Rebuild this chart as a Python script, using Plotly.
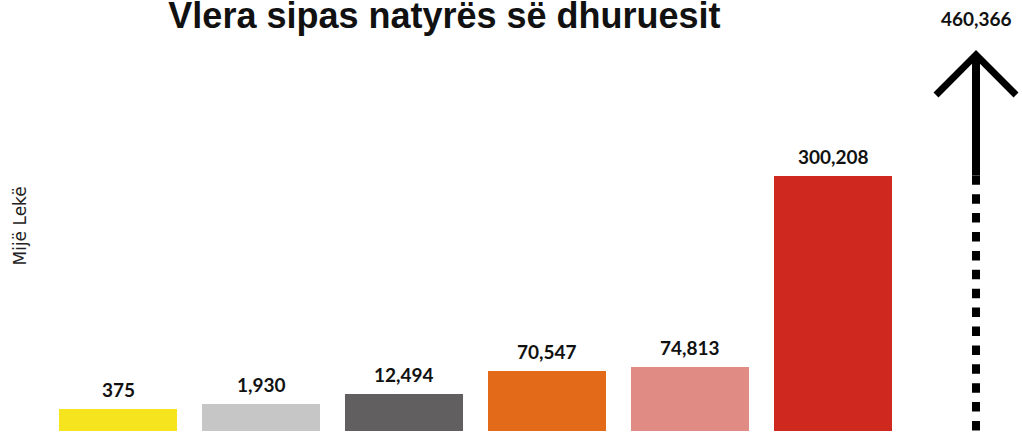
import plotly.graph_objects as go

# ---------------- data ----------------
bar_values = [375, 1930, 12494, 70547, 74813, 300208]          # value labels (Mijë Lekë)
bar_heights = [24900, 31800, 43300, 70547, 74813, 300208]      # bar heights as drawn in the source
bar_colors = ["#F6E41E", "#C6C6C6", "#615F5F", "#E36A18", "#E18B85", "#CF291F"]
total_value = 460366                                            # off-scale total shown by the arrow
title_text = "Vlera sipas natyrës së dhuruesit"
y_title = "Mijë Lekë"

# ---------------- layout geometry ----------------
W, H = 1022, 435
X_PX = 143.0                      # pixels per category
X0_PX = 118.0                     # pixel centre of first bar
Y_PX = 260.26 / 300208            # pixels per unit
BASE_PX = 439.6                   # baseline pixel (just below bottom edge)

x_range = [-X0_PX / X_PX, (W - X0_PX) / X_PX]
y_range = [-(BASE_PX - H) / Y_PX, BASE_PX / Y_PX]

xs = list(range(len(bar_values)))
arrow_x = len(bar_values)
arrow_tip = (BASE_PX - 56) / Y_PX
arm_dx = 40 / X_PX
arm_dy = 41 / Y_PX
top_bar = max(bar_heights)

fig = go.Figure()
fig.add_trace(go.Bar(
    x=xs, y=bar_heights, width=0.82,
    marker=dict(color=bar_colors, line=dict(width=0)),
    hoverinfo="skip", showlegend=False,
))
# dashed part of arrow
fig.add_trace(go.Scatter(
    x=[arrow_x, arrow_x], y=[0, top_bar], mode="lines",
    line=dict(color="black", width=8, dash="9.5px,9.4px"),
    hoverinfo="skip", showlegend=False,
))
# solid stem
fig.add_trace(go.Scatter(
    x=[arrow_x, arrow_x], y=[top_bar, arrow_tip], mode="lines",
    line=dict(color="black", width=8),
    hoverinfo="skip", showlegend=False,
))
# chevron head
fig.add_trace(go.Scatter(
    x=[arrow_x - arm_dx, arrow_x, arrow_x + arm_dx],
    y=[arrow_tip - arm_dy, arrow_tip, arrow_tip - arm_dy],
    mode="lines", line=dict(color="black", width=7),
    hoverinfo="skip", showlegend=False,
))

label_font = dict(family="Lato", size=19, color="#111111", weight="bold")
for x, h, v in zip(xs, bar_heights, bar_values):
    fig.add_annotation(x=x, y=h, xref="x", yref="y", text=f"{v:,}",
                       showarrow=False, yanchor="bottom", yshift=6, font=label_font)

fig.add_annotation(x=arrow_x, y=1 - 18.3 / H, xref="x", yref="paper",
                   text=f"{total_value:,}", showarrow=False, yanchor="middle",
                   font=label_font)

fig.add_annotation(x=19.5 / W, y=1 - 226 / H, xref="paper", yref="paper",
                   text=y_title, textangle=-90, showarrow=False,
                   xanchor="center", yanchor="middle",
                   font=dict(family="DejaVu Sans", size=17, color="#222222"))

fig.update_layout(
    width=W, height=H,
    margin=dict(l=0, r=0, t=0, b=0, autoexpand=False),
    paper_bgcolor="white", plot_bgcolor="white",
    title=dict(text=title_text, x=444.5 / W, xanchor="center", xref="paper",
               y=1 - 15 / H, yanchor="middle", yref="container",
               font=dict(family="Liberation Sans", size=36, color="#111111", weight="bold")),
    xaxis=dict(range=x_range, visible=False, fixedrange=True),
    yaxis=dict(range=y_range, visible=False, fixedrange=True),
    bargap=0,
)

fig.write_html("out.html", config={"displayModeBar": False},
               post_script="document.body.style.margin='0';document.body.style.overflow='hidden';")
